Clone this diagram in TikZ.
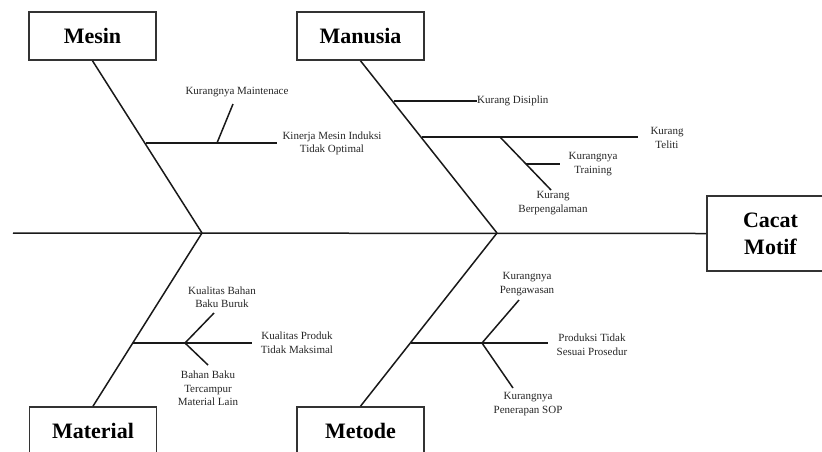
\documentclass[tikz,border=0pt]{standalone}
\usepackage{fontspec}
\setmainfont{Liberation Serif}
\usepackage{tikz}

\begin{document}
\begin{tikzpicture}[x=1pt,y=-1pt,
	bone/.style={line width=1.5pt, black!90},
	box/.style={draw=black!80, line width=1.6pt, minimum width=127pt, minimum height=48pt, inner sep=0pt, align=center, font=\fontsize{22}{27}\selectfont\bfseries},
	cause/.style={inner sep=0pt, align=center, text=black!85, font=\fontsize{11}{13.5}\selectfont}]

\useasboundingbox (0,0) rectangle (822,451);
\clip (0,0) rectangle (822,451);

\node[box] (mesin) at (92.5,36) {Mesin};
\node[box] (manusia) at (360.5,36) {Manusia};
\node[box] (material) at (93,431) {Material};
\node[box] (metode) at (360.5,431) {Metode};
\node[box, minimum width=127pt, minimum height=75pt] (cacat) at (770.5,233.5) {Cacat\\Motif};

\coordinate (tail) at (13,233);
\coordinate (jA) at (202,233);
\coordinate (jB) at (497,233);
\draw[bone] (tail) -- (cacat.west);
\foreach \b/\j in {mesin.south/jA, material.north/jA, manusia.south/jB, metode.north/jB}
{	\draw[bone] (\b) -- (\j);
}

% Mesin
\coordinate (ms1) at (146,143);
\coordinate (ms1e) at (277,143);
\coordinate (ms2) at (217,143);
\coordinate (ms2e) at (233,104);
\draw[bone] (ms1) -- (ms1e);
\draw[bone] (ms2) -- (ms2e);
\node[cause] (maint) at (237,92) {Kurangnya Maintenace};
\node[cause] (kinerja) at (332,143.5) {Kinerja Mesin Induksi\\Tidak Optimal};

% Manusia
\coordinate (mn1) at (394,101);
\coordinate (mn2) at (422,137);
\coordinate (mn2e) at (638,137);
\coordinate (mn3) at (500,137);
\coordinate (mn3e) at (551,190);
\coordinate (mn4) at (526,164);
\coordinate (mn4e) at (560,164);
\node[cause, anchor=west] (disiplin) at (477,101) {Kurang Disiplin};
\node[cause] (teliti) at (667,138) {Kurang\\Teliti};
\node[cause] (training) at (593,164) {Kurangnya\\Training};
\node[cause] (pengalaman) at (553,203) {Kurang\\Berpengalaman};
\draw[bone] (mn1) -- (disiplin.west);
\draw[bone] (mn2) -- (mn2e);
\draw[bone] (mn3) -- (mn3e);
\draw[bone] (mn4) -- (mn4e);

% Material
\coordinate (mt1) at (133,343);
\coordinate (mt1e) at (252,343);
\coordinate (mt2) at (185,343);
\coordinate (mt2a) at (214,313);
\coordinate (mt2b) at (208,365);
\draw[bone] (mt1) -- (mt1e);
\draw[bone] (mt2) -- (mt2a);
\draw[bone] (mt2) -- (mt2b);
\node[cause] (bahan) at (222,297) {Kualitas Bahan\\Baku Buruk};
\node[cause] (produk) at (297,342.5) {Kualitas Produk\\Tidak Maksimal};
\node[cause] (campur) at (208,388.5) {Bahan Baku\\Tercampur\\Material Lain};

% Metode
\coordinate (me1) at (411,343);
\coordinate (me1e) at (548,343);
\coordinate (me2) at (482,343);
\coordinate (me2a) at (519,300);
\coordinate (me2b) at (513,388);
\draw[bone] (me1) -- (me1e);
\draw[bone] (me2) -- (me2a);
\draw[bone] (me2) -- (me2b);
\node[cause] (awas) at (527,284) {Kurangnya\\Pengawasan};
\node[cause] (prosedur) at (592,344.5) {Produksi Tidak\\Sesuai Prosedur};
\node[cause] (sop) at (528,404) {Kurangnya\\Penerapan SOP};

\end{tikzpicture}
\end{document}
